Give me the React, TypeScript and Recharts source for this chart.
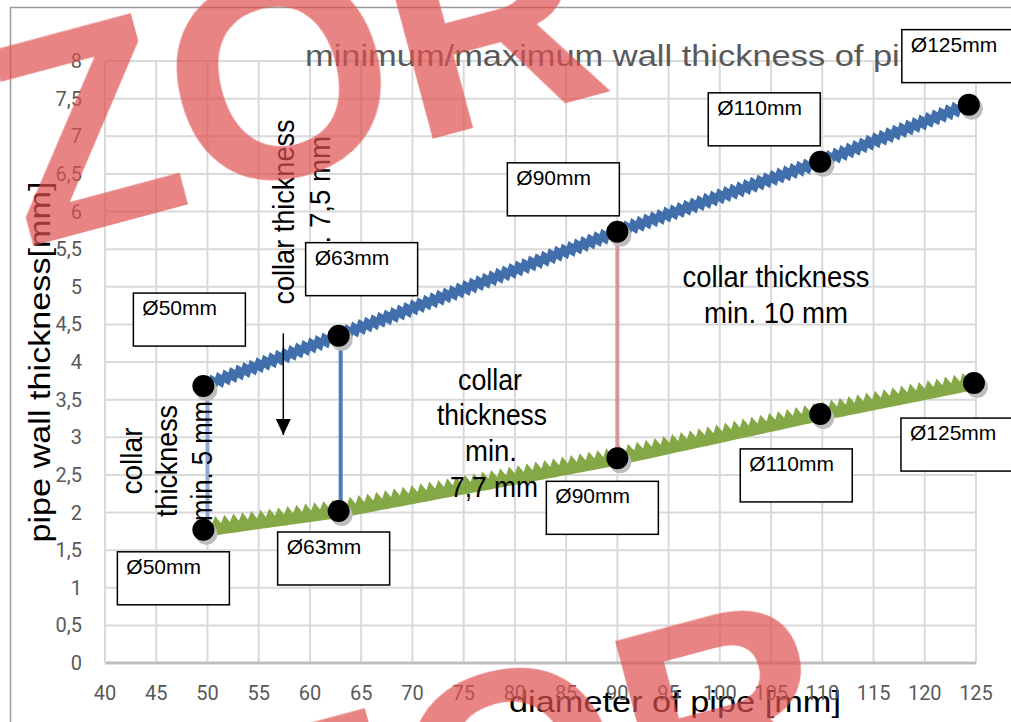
import React from "react";
import { ScatterChart, Scatter, XAxis, YAxis, CartesianGrid } from "recharts";

// pipe diameters and wall thickness (mm)
const diameters = [50, 63, 90, 110, 125];
const maxPipeX = [49.6, 62.8, 90, 109.8, 124.3];
const maxWall = [3.68, 4.35, 5.73, 6.66, 7.42];
const minPipeX = [49.6, 62.8, 90, 109.8, 124.8];
const minWall = [1.77, 2.02, 2.72, 3.31, 3.72];

// collar markers between the two curves
const collarX = [50, 63, 90];
const collarTop = [3.68, 4.35, 5.73];
const collarBottom = [1.77, 2.02, 2.72];

const arrowX = 57.4;
const arrowFrom = 4.38;
const arrowTo = 3.03;

const xTicks = [40, 45, 50, 55, 60, 65, 70, 75, 80, 85, 90, 95, 100, 105, 110, 115, 120, 125];
const yTicks = [0, 0.5, 1, 1.5, 2, 2.5, 3, 3.5, 4, 4.5, 5, 5.5, 6, 6.5, 7, 7.5, 8];

const collarColors = ["#8eaad6", "#4a7ebb", "#d9959a"];
// label box offset from its point, px
const maxBoxOffset = [[-70, -93], [-33, -93], [-110, -69], [-112, -69], [-67, -75]];
const minBoxOffset = [[-86, 22], [-61, 21], [-71, 23], [-80, 35], [-73, 35]];

const maxData = diameters.map((d, i) => ({ d, i, x: maxPipeX[i], y: maxWall[i] }));
const minData = diameters.map((d, i) => ({ d, i, x: minPipeX[i], y: minWall[i] }));

const NARROW = "'Liberation Sans Narrow', 'Liberation Sans', Arial, sans-serif";
const SANS = "'Liberation Sans', Arial, sans-serif";

function sawPath(
  pts: { x: number; y: number }[],
  above: number,
  below: number,
  toothUp: number,
  toothDown: number,
  period: number
) {
  const top: number[][] = [];
  const bottom: number[][] = [];
  for (let s = 0; s < pts.length - 1; s++) {
    const a = pts[s];
    const b = pts[s + 1];
    const dx = b.x - a.x;
    const dy = b.y - a.y;
    const len = Math.hypot(dx, dy);
    const ux = dx / len;
    const uy = dy / len;
    const nx = uy;
    const ny = -ux;
    const steps = Math.max(2, Math.round(len / (period / 2)));
    for (let k = 0; k <= steps; k++) {
      if (s > 0 && k === 0) continue;
      const t = (len * k) / steps;
      const px = a.x + ux * t;
      const py = a.y + uy * t;
      const tip = k % 2 === 1;
      const up = above + (tip ? toothUp : 0);
      const dn = below + (tip ? toothDown : 0);
      top.push([px + nx * up, py + ny * up]);
      bottom.push([px - nx * dn, py - ny * dn]);
    }
  }
  const all = top.concat(bottom.reverse());
  return "M" + all.map((p) => p[0].toFixed(1) + "," + p[1].toFixed(1)).join(" L") + " Z";
}

const blueBand = (p: any) => (
  <path d={sawPath(p.points, 4, 4, 4.5, 4.5, 7)} fill="#416fab" stroke="none" />
);
const greenBand = (p: any) => (
  <path d={sawPath(p.points, 4, 7, 8, 0, 9)} fill="#85a847" stroke="none" />
);

const Empty = () => <g />;

function makeDot(offsets: number[][]) {
  return (props: any) => {
    const { cx, cy, payload } = props;
    const [ox, oy] = offsets[payload.i];
    const bx = cx + ox;
    const by = cy + oy;
    return (
      <g>
        <circle cx={cx + 3} cy={cy + 4} r={11} fill="#bdbdbd" />
        <circle cx={cx} cy={cy} r={11} fill="#000" />
        <rect x={bx} y={by} width={112} height={53} fill="#fff" stroke="#000" strokeWidth={1.5} />
        <text x={bx + 9} y={by + 22} fontSize={21} fontFamily={SANS} fill="#000">
          {"Ø" + payload.d + "mm"}
        </text>
      </g>
    );
  };
}

const ArrowHead = (props: any) => {
  const { cx, cy } = props;
  return <path d={`M${cx - 7.5},${cy - 16} L${cx + 7.5},${cy - 16} L${cx},${cy} Z`} fill="#000" />;
};

// chart texts, drawn above the curves and below the label boxes
const Notes = () => (
  <g>
    <text x={305} y={66} fontSize={30} fontFamily={NARROW} fill="#595959" textLength={633} lengthAdjust="spacingAndGlyphs">
      minimum/maximum wall thickness of pipe
    </text>
    <g fontFamily={NARROW} fill="#000" fontSize={29}>
      <text x={776} y={287} textAnchor="middle" textLength={187} lengthAdjust="spacingAndGlyphs">collar thickness</text>
      <text x={776} y={323} textAnchor="middle" textLength={144} lengthAdjust="spacingAndGlyphs">min. 10 mm</text>
      <text x={490} y={390} textAnchor="middle" textLength={64} lengthAdjust="spacingAndGlyphs">collar</text>
      <text x={492} y={425} textAnchor="middle" textLength={110} lengthAdjust="spacingAndGlyphs">thickness</text>
      <text x={491} y={461} textAnchor="middle" textLength={52} lengthAdjust="spacingAndGlyphs">min.</text>
      <text x={494} y={497} textAnchor="middle" textLength={88} lengthAdjust="spacingAndGlyphs">7,7 mm</text>
      <text transform="translate(294,212) rotate(-90)" textAnchor="middle" textLength={185} lengthAdjust="spacingAndGlyphs">collar thickness</text>
      <text transform="translate(330,212) rotate(-90)" textAnchor="middle" textLength={152} lengthAdjust="spacingAndGlyphs">min. 7,5 mm</text>
      <text transform="translate(142,461) rotate(-90)" textAnchor="middle" textLength={67} lengthAdjust="spacingAndGlyphs">collar</text>
      <text transform="translate(177,461) rotate(-90)" textAnchor="middle" textLength={112} lengthAdjust="spacingAndGlyphs">thickness</text>
      <text transform="translate(212,461) rotate(-90)" textAnchor="middle" textLength={120} lengthAdjust="spacingAndGlyphs">min. 5 mm</text>
    </g>
  </g>
);

const fmt = (v: number) => String(v).replace(".", ",");

export default function App() {
  return (
    <div style={{ position: "absolute", left: 0, top: 0, width: 1011, height: 722, overflow: "hidden", background: "#fff" }}>
      <ScatterChart width={1011} height={722} margin={{ top: 61, right: 35, bottom: 0, left: 0 }}>
        <CartesianGrid stroke="#d9d9d9" strokeWidth={2} />
        <XAxis
          type="number"
          dataKey="x"
          domain={[40, 125]}
          ticks={xTicks}
          interval={0}
          height={59}
          tickSize={0}
          tickMargin={23}
          tickLine={false}
          axisLine={{ stroke: "#bfbfbf", strokeWidth: 3 }}
          tick={{ fill: "#595959", fontSize: 20, fontFamily: "Roboto" }}
        />
        <YAxis
          type="number"
          dataKey="y"
          domain={[0, 8]}
          ticks={yTicks}
          interval={0}
          width={105}
          tickSize={0}
          tickMargin={23}
          tickLine={false}
          axisLine={{ stroke: "#d9d9d9", strokeWidth: 2 }}
          tickFormatter={fmt}
          tick={{ fill: "#595959", fontSize: 20, fontFamily: "Roboto" }}
        />

        <text transform="translate(50,362) rotate(-90)" textAnchor="middle" fontSize={30} fontFamily={SANS} fill="#000" textLength={361} lengthAdjust="spacingAndGlyphs">
          pipe wall thickness[mm]
        </text>
        <text x={675} y={712} textAnchor="middle" fontSize={29} fontFamily={SANS} fill="#000" textLength={332} lengthAdjust="spacingAndGlyphs">
          diameter of pipe [mm]
        </text>

        <Scatter data={maxData} line={blueBand} lineType="joint" shape={Empty} isAnimationActive={false} />
        <Scatter data={minData} line={greenBand} lineType="joint" shape={Empty} isAnimationActive={false} />

        {collarX.map((cx, i) => (
          <Scatter
            key={cx}
            data={[{ x: cx, y: collarTop[i] }, { x: cx, y: collarBottom[i] }]}
            line={{ stroke: collarColors[i], strokeWidth: 4 }}
            lineType="joint"
            shape={Empty}
            isAnimationActive={false}
          />
        ))}

        <Scatter
          data={[{ x: arrowX, y: arrowFrom }, { x: arrowX, y: arrowTo }]}
          line={{ stroke: "#000", strokeWidth: 1.5 }}
          lineType="joint"
          shape={Empty}
          isAnimationActive={false}
        />
        <Scatter data={[{ x: arrowX, y: arrowTo }]} shape={ArrowHead} isAnimationActive={false} />

        <Scatter data={[{ x: 40, y: 0 }]} shape={Notes} isAnimationActive={false} />

        <Scatter data={maxData} shape={makeDot(maxBoxOffset)} isAnimationActive={false} />
        <Scatter data={minData} shape={makeDot(minBoxOffset)} isAnimationActive={false} />
      </ScatterChart>

      <svg width={1011} height={722} style={{ position: "absolute", left: 0, top: 0, pointerEvents: "none" }}>
        <path d="M10.5,722 L10.5,7.5 L1011,7.5" fill="none" stroke="#9a9a9a" strokeWidth={1.5} />
        <g fontFamily={SANS} fontWeight="bold" fontSize={290} fill="rgb(224,80,80)" opacity={0.7}>
          <text x={25} y={248} transform="rotate(-15 25 248)">ZOR</text>
          <text x={259} y={943} transform="rotate(-15 259 943)">ZOR</text>
        </g>
      </svg>
    </div>
  );
}
